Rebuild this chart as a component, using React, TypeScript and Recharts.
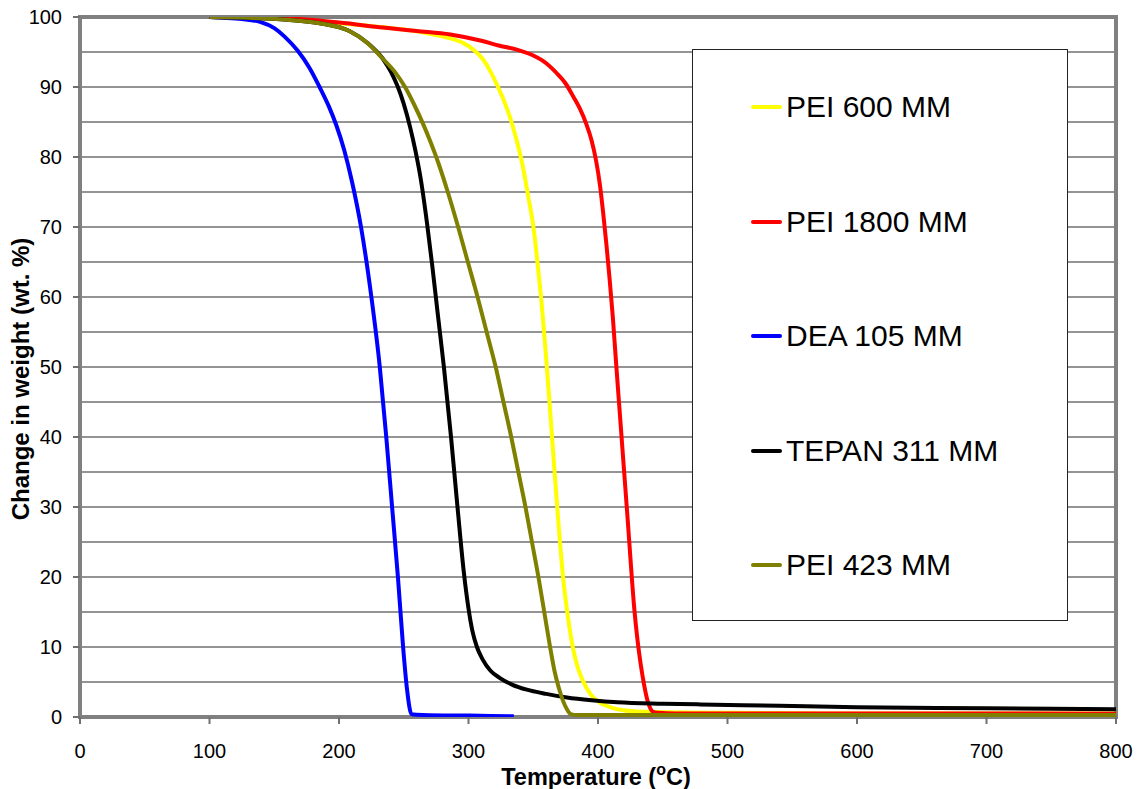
import {
  LineChart,
  Line,
  XAxis,
  YAxis,
  CartesianGrid,
  Legend,
  ReferenceArea,
  Label,
} from 'recharts'

const FONT = '"Liberation Sans", Arial, sans-serif'

// PEI 600 MM
const pei600Temp = [100, 130, 160, 190, 220, 250, 270, 285, 296, 304, 311, 317, 322, 327, 332, 337, 341, 346, 350.5, 353.5, 356, 360.5, 364.5, 368.5, 373, 377, 380.5, 384, 388, 394, 401, 408, 415, 430, 500, 600, 700, 800]
const pei600Weight = [100, 99.9, 99.7, 99.3, 98.8, 98.2, 97.6, 97, 96.3, 95.3, 94, 92.2, 90.3, 88.2, 85.7, 82.5, 79.5, 74.5, 69.5, 64.5, 60, 50, 40, 30, 20, 14, 10, 7.3, 5.3, 3.3, 2.1, 1.5, 1.1, 0.8, 0.6, 0.5, 0.5, 0.5]

// PEI 1800 MM
const pei1800Temp = [100, 140, 170, 200, 234, 260, 286, 310, 324, 338, 350, 360, 368, 375, 381, 386, 391, 395, 398.5, 401.5, 404, 406.5, 409, 411.5, 414, 417, 420, 423, 425.5, 428, 430.5, 433, 435.5, 438, 440, 442, 446, 460, 500, 600, 700, 800]
const pei1800Weight = [100, 99.9, 99.7, 99.2, 98.5, 98, 97.5, 96.6, 95.9, 95.3, 94.5, 93.4, 92, 90.5, 88.6, 86.9, 84.7, 82.4, 79.5, 76, 72, 67.5, 62.5, 57, 50.5, 43, 35.5, 28, 21.5, 15.5, 11, 7.5, 4.7, 2.5, 1.4, 0.8, 0.6, 0.5, 0.5, 0.5, 0.5, 0.45]

// DEA 105 MM
const deaTemp = [100, 110, 125, 139, 150, 158, 168, 177, 185, 192, 198, 204, 210, 217, 225, 231.5, 236.5, 241, 245.5, 249.5, 252.5, 256, 265, 300, 335]
const deaWeight = [100, 99.9, 99.7, 99.3, 98.4, 97.2, 95.2, 92.8, 90, 87.3, 84.5, 81, 76.5, 70, 60, 50, 40, 30, 20, 10, 4, 0.4, 0.3, 0.2, 0.1]

// TEPAN 311 MM
const tepanTemp = [100, 130, 160, 185, 208, 222, 234, 240, 245, 250, 255, 259, 263, 268, 272, 276, 281, 286.5, 291.5, 296.5, 300, 303, 306.5, 311, 317, 324, 334, 345, 360, 376, 395, 415, 450, 479, 540, 600, 700, 800]
const tepanWeight = [100, 99.9, 99.6, 99.1, 98, 96.3, 94, 92.2, 90.2, 87.6, 84.2, 80.9, 77, 70.5, 64.5, 58, 50, 40, 30, 20.5, 15.5, 12.3, 10, 8.2, 6.6, 5.6, 4.6, 3.9, 3.3, 2.8, 2.4, 2.1, 1.9, 1.8, 1.6, 1.4, 1.25, 1.1]

// PEI 423 MM
const pei423Temp = [100, 130, 160, 185, 208, 222, 234, 243, 251, 258, 265, 271, 277, 284, 292, 299.5, 307, 314, 321, 327, 333, 338.5, 344, 349, 354, 358.5, 363, 366.5, 370, 373, 376, 379, 382, 400, 500, 600, 700, 800]
const pei423Weight = [100, 99.9, 99.6, 99.1, 98, 96.3, 94, 92.2, 90, 87.5, 84.7, 82, 79, 75, 70, 65, 60, 55, 50, 45, 40, 35, 30, 25, 20, 15, 10, 6.5, 4, 2.3, 1.1, 0.4, 0.3, 0.3, 0.3, 0.3, 0.3, 0.3]

const xTicks = [0, 100, 200, 300, 400, 500, 600, 700, 800]
const yTicks = [0, 10, 20, 30, 40, 50, 60, 70, 80, 90, 100]
const gridValues = [5, 10, 15, 20, 25, 30, 35, 40, 45, 50, 55, 60, 65, 70, 75, 80, 85, 90, 95]

const toPoints = (temps: number[], weights: number[]) =>
  temps.map((t, i) => ({ temp: t, weight: weights[i] }))

const series = [
  { name: 'PEI 600 MM', color: '#ffff00', data: toPoints(pei600Temp, pei600Weight) },
  { name: 'PEI 1800 MM', color: '#ff0000', data: toPoints(pei1800Temp, pei1800Weight) },
  { name: 'DEA 105 MM', color: '#0000ff', data: toPoints(deaTemp, deaWeight) },
  { name: 'TEPAN 311 MM', color: '#000000', data: toPoints(tepanTemp, tepanWeight) },
  { name: 'PEI 423 MM', color: '#808000', data: toPoints(pei423Temp, pei423Weight) },
]
const seriesOrder = series.map((s) => s.name)

function LegendBox(props: any) {
  // keep the legend in series order, not alphabetical
  const items = [...(props.payload ?? [])].sort(
    (a: any, b: any) => seriesOrder.indexOf(a.value) - seriesOrder.indexOf(b.value)
  )
  return (
    <div
      style={{
        position: 'relative',
        width: 376,
        height: 572,
        boxSizing: 'border-box',
        background: '#fff',
        border: '1.5px solid #222',
        fontFamily: FONT,
      }}
    >
      {items.map((item: any, i: number) => (
        <div
          key={item.value}
          style={{
            position: 'absolute',
            left: 58,
            top: 57 + i * 114.5 - 18,
            height: 36,
            display: 'flex',
            alignItems: 'center',
            whiteSpace: 'nowrap',
          }}
        >
          <span
            style={{
              display: 'inline-block',
              width: 31,
              height: 4,
              borderRadius: 2,
              background: item.color,
              marginRight: 4,
            }}
          />
          <span style={{ fontSize: 30, color: '#000' }}>{item.value}</span>
        </div>
      ))}
    </div>
  )
}

export default function App() {
  return (
    <div style={{ width: 1138, height: 789, position: 'relative', background: '#fff' }}>
      <style>{'body{margin:0}'}</style>
      <LineChart
        width={1138}
        height={789}
        margin={{ top: 17, right: 22, bottom: 32, left: 20 }}
      >
        <CartesianGrid
          vertical={false}
          horizontalValues={gridValues}
          stroke="#2a2a2a"
          strokeWidth={1.2}
        />
        <XAxis
          type="number"
          dataKey="temp"
          domain={[0, 800]}
          ticks={xTicks}
          allowDataOverflow
          height={40}
          axisLine={false}
          tickLine={{ stroke: '#707070', strokeWidth: 2 }}
          tickSize={7}
          tickMargin={20}
          tick={{ fill: '#000', fontSize: 20, fontFamily: FONT }}
        >
          <Label
            content={() => (
              <text
                x={596}
                y={785}
                textAnchor="middle"
                fontFamily={FONT}
                fontWeight="bold"
                fontSize={23.5}
                fill="#000"
              >
                <tspan>Temperature (</tspan>
                <tspan dy={-10} fontSize={16}>o</tspan>
                <tspan dy={10}>C)</tspan>
              </text>
            )}
          />
        </XAxis>
        <YAxis
          type="number"
          domain={[0, 100]}
          ticks={yTicks}
          allowDataOverflow
          width={60}
          axisLine={false}
          tickLine={{ stroke: '#707070', strokeWidth: 2 }}
          tickSize={7}
          tickMargin={11}
          tick={{ fill: '#000', fontSize: 20, fontFamily: FONT }}
        >
          <Label
            content={() => (
              <text
                x={29}
                y={379}
                transform="rotate(-90, 29, 379)"
                textAnchor="middle"
                fontFamily={FONT}
                fontWeight="bold"
                fontSize={24}
                fill="#000"
              >
                Change in weight (wt. %)
              </text>
            )}
          />
        </YAxis>
        <ReferenceArea
          x1={0}
          x2={800}
          y1={0}
          y2={100}
          fill="none"
          stroke="#808080"
          strokeWidth={4}
        />
        {series.map((s) => (
          <Line
            key={s.name}
            data={s.data}
            dataKey="weight"
            name={s.name}
            type="monotone"
            stroke={s.color}
            strokeWidth={4}
            dot={false}
            activeDot={false}
            isAnimationActive={false}
          />
        ))}
        <Legend
          layout="horizontal"
          verticalAlign="middle"
          align="center"
          wrapperStyle={{ left: 692, top: 49, width: 376, height: 572 }}
          content={<LegendBox />}
        />
      </LineChart>
    </div>
  )
}
